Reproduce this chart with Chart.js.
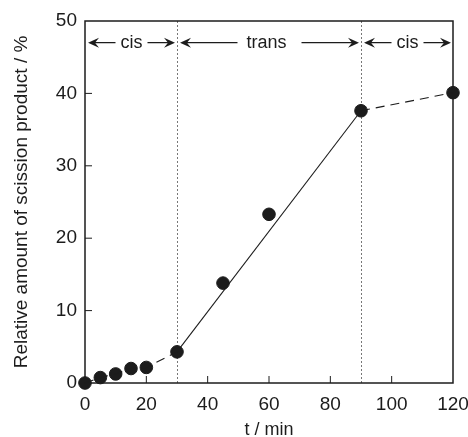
<!DOCTYPE html>
<html>
<head>
<meta charset="utf-8">
<script src="https://cdn.jsdelivr.net/npm/chart.js@4.4.1/dist/chart.umd.min.js"></script>
<style>
  html, body { margin: 0; padding: 0; background: #fff; }
  #wrap { width: 468px; height: 437px; }
</style>
</head>
<body>
<div id="wrap"><canvas id="scissionChart"></canvas></div>
<script>
// time points (min) and scission product (%)
const timeMin = [0, 5, 10, 15, 20, 30, 45, 60, 90, 120]
const amount = [0, 0.75, 1.25, 2.0, 2.15, 4.3, 13.8, 23.3, 37.6, 40.1]

// irradiation phases
const phaseLabels = ['cis', 'trans', 'cis']
const phaseStart = [0, 30, 90]
const phaseEnd = [30, 90, 120]
const phaseArrowY = 47

const xTicks = [0, 20, 40, 60, 80, 100, 120]
const yTicks = [0, 10, 20, 30, 40, 50]

const ink = '#1c1c1c'
const fontFam = '"Liberation Sans", Arial, sans-serif'

const pts = timeMin.map((t, i) => ({ x: t, y: amount[i] }))

const arrowHead = (ctx, x, y, dir) => {
  ctx.beginPath()
  ctx.moveTo(x, y)
  ctx.lineTo(x - dir * 11, y - 5)
  ctx.lineTo(x - dir * 7, y)
  ctx.lineTo(x - dir * 11, y + 5)
  ctx.closePath()
  ctx.fill()
}

const decor = {
  id: 'decor',
  beforeDatasetsDraw(chart) {
    const { ctx, chartArea: a, scales: { x } } = chart
    ctx.save()
    ctx.strokeStyle = '#777'
    ctx.lineWidth = 1
    ctx.setLineDash([2, 2])
    ;[30, 90].forEach(v => {
      const px = Math.round(x.getPixelForValue(v)) + 0.5
      ctx.beginPath()
      ctx.moveTo(px, a.top)
      ctx.lineTo(px, a.bottom)
      ctx.stroke()
    })
    ctx.restore()
  },
  afterDraw(chart) {
    const { ctx, chartArea: a, scales: { x, y } } = chart
    ctx.save()
    ctx.strokeStyle = ink
    ctx.lineWidth = 1.5
    ctx.strokeRect(a.left, a.top, a.right - a.left, a.bottom - a.top)
    // inward ticks
    ctx.lineWidth = 1
    xTicks.slice(1, -1).forEach(v => {
      const px = x.getPixelForValue(v)
      ctx.beginPath()
      ctx.moveTo(px, a.bottom)
      ctx.lineTo(px, a.bottom - 7)
      ctx.stroke()
    })
    yTicks.slice(1, -1).forEach(v => {
      const py = y.getPixelForValue(v)
      ctx.beginPath()
      ctx.moveTo(a.left, py)
      ctx.lineTo(a.left + 7, py)
      ctx.stroke()
    })
    // phase arrows
    ctx.font = '18px ' + fontFam
    ctx.textAlign = 'center'
    ctx.textBaseline = 'middle'
    ctx.fillStyle = ink
    ctx.lineWidth = 1.3
    const py = y.getPixelForValue(phaseArrowY)
    phaseLabels.forEach((lab, i) => {
      const x0 = x.getPixelForValue(phaseStart[i]) + 3
      const x1 = x.getPixelForValue(phaseEnd[i]) - 2
      const mid = (x0 + x1) / 2
      const w = ctx.measureText(lab).width / 2 + (lab === 'trans' ? 12 : 5)
      ctx.fillText(lab, mid - (lab === 'trans' ? 3 : 0), py)
      ctx.beginPath()
      ctx.moveTo(x0 + 4, py)
      ctx.lineTo(mid - w, py)
      ctx.moveTo(mid + w, py)
      ctx.lineTo(x1 - 4, py)
      ctx.stroke()
      arrowHead(ctx, x0, py, -1)
      arrowHead(ctx, x1, py, 1)
    })
    ctx.restore()
  }
}

new Chart(document.getElementById('scissionChart'), {
  type: 'scatter',
  data: {
    datasets: [{
      data: pts.slice(0, 6),
      showLine: true,
      borderColor: ink,
      borderWidth: 1.1,
      borderDash: [9, 6],
      pointRadius: 0
    }, {
      data: [pts[5], pts[8]],
      showLine: true,
      borderColor: ink,
      borderWidth: 1.1,
      pointRadius: 0
    }, {
      data: [pts[8], pts[9]],
      showLine: true,
      borderColor: ink,
      borderWidth: 1.1,
      borderDash: [9, 6],
      pointRadius: 0
    }, {
      data: pts,
      pointRadius: 6.3,
      pointBackgroundColor: ink,
      pointBorderColor: ink
    }]
  },
  options: {
    responsive: true,
    maintainAspectRatio: false,
    animation: false,
    clip: false,
    layout: { padding: { top: 21, right: 15, left: 0, bottom: 0 } },
    plugins: { legend: { display: false }, tooltip: { enabled: false } },
    scales: {
      x: {
        type: 'linear',
        min: 0,
        max: 120,
        afterBuildTicks: s => { s.ticks = xTicks.map(v => ({ value: v })) },
        afterFit: s => { s.height = 54; s.paddingLeft = 0; s.paddingRight = 0 },
        grid: { display: false, drawTicks: false },
        border: { display: false },
        ticks: { color: ink, padding: 10, font: { size: 19, family: fontFam } },
        title: { display: true, text: 't / min', color: ink, padding: { top: 0, bottom: -4 }, font: { size: 18, family: fontFam } }
      },
      y: {
        min: 0,
        max: 50,
        afterBuildTicks: s => { s.ticks = yTicks.map(v => ({ value: v })) },
        afterFit: s => { s.width = 85; s.paddingTop = 0; s.paddingBottom = 0 },
        grid: { display: false, drawTicks: false },
        border: { display: false },
        ticks: { color: ink, padding: 8, font: { size: 19, family: fontFam } },
        title: { display: true, text: 'Relative amount of scission product / %', color: ink, padding: { top: 10, bottom: 0 }, font: { size: 19, family: fontFam } }
      }
    }
  },
  plugins: [decor]
})
</script>
</body>
</html>
